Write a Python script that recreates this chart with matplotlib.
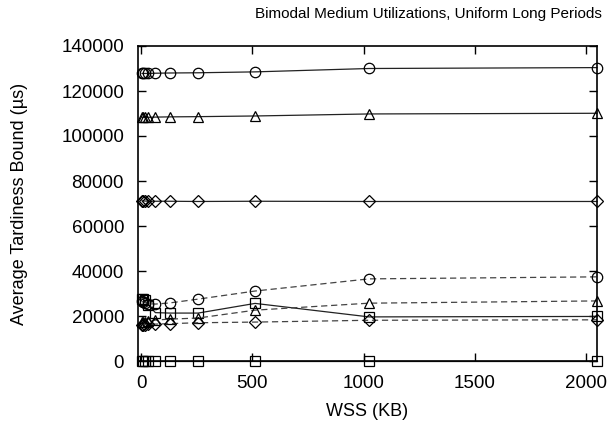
import matplotlib
matplotlib.use("Agg")
import matplotlib.pyplot as plt

plt.rcParams['font.family'] = ['Liberation Sans', 'DejaVu Sans']

wss = [4, 8, 16, 32, 64, 128, 256, 512, 1024, 2048]

# solid series
solid_circle = [127800, 127800, 127800, 127800, 127900, 128000, 128100, 128500, 130000, 130400]
solid_triangle = [108300, 108300, 108300, 108300, 108400, 108500, 108600, 108900, 109800, 110100]
solid_diamond = [71200, 71100, 71100, 71000, 71000, 71000, 70900, 71000, 70900, 70900]
solid_square_hi = [27500, 27500, 27000, 25000, 21500, 21300, 21300, 25600, 19600, 19800]
solid_square_lo = [100, 100, 100, 100, 100, 100, 100, 100, 100, 100]

# dashed series
dashed_circle = [26500, 26200, 26000, 25500, 25300, 25800, 27500, 31100, 36500, 37400]
dashed_triangle = [17200, 17300, 17500, 17800, 18200, 18600, 19100, 22600, 25700, 26700]
dashed_diamond = [16000, 16100, 16200, 16300, 16400, 16600, 17000, 17300, 18100, 18300]

fig = plt.figure(figsize=(6.13, 4.23), dpi=100)
ax = fig.add_axes([138/613, 1-361/423, (597-138)/613, (361-46)/423])

mk = dict(markersize=7.5, markerfacecolor='none', markeredgecolor='black', markeredgewidth=0.9, clip_on=False)
dk = dict(markersize=6, markerfacecolor='none', markeredgecolor='black', markeredgewidth=0.9, clip_on=False)

ax.plot(wss, solid_circle, '-', color='#222222', lw=0.9, marker='o', **mk)
ax.plot(wss, solid_triangle, '-', color='#222222', lw=0.9, marker='^', **mk)
ax.plot(wss, solid_diamond, '-', color='#222222', lw=0.9, marker='D', **dk)
ax.plot(wss, solid_square_hi, '-', color='#222222', lw=0.9, marker='s', **mk)
ax.plot(wss, solid_square_lo, '-', color='#222222', lw=0.9, marker='s', **mk)

ax.plot(wss, dashed_circle, '--', color='#444444', lw=0.9, dashes=(5, 3), marker='o', **mk)
ax.plot(wss, dashed_triangle, '--', color='#444444', lw=0.9, dashes=(5, 3), marker='^', **mk)
ax.plot(wss, dashed_diamond, '--', color='#444444', lw=0.9, dashes=(5, 3), marker='D', **dk)

ax.set_xlim(-14, 2048)
ax.set_ylim(0, 140000)
ax.set_xticks([0, 500, 1000, 1500, 2000])
ax.set_yticks(range(0, 140001, 20000))
ax.tick_params(direction='in', top=True, right=True, length=6, width=1, labelsize=13.5, pad=10)
for s in ax.spines.values():
    s.set_linewidth(1.2)

ax.set_xlabel('WSS (KB)', fontsize=13, labelpad=8)
ax.set_ylabel('Average Tardiness Bound (µs)', fontsize=13, labelpad=24)
ax.set_title('Bimodal Medium Utilizations, Uniform Long Periods', fontsize=11, loc='right', x=1.01, pad=20)

fig.savefig('out.png', dpi=100)
